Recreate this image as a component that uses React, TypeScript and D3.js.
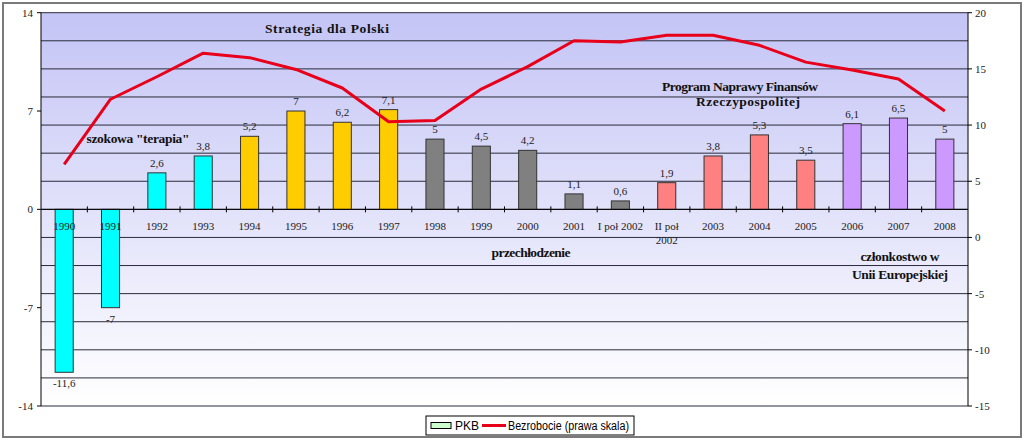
import React from "react";
import * as d3 from "d3";

const categories = ["1990","1991","1992","1993","1994","1995","1996","1997","1998","1999","2000","2001","I poł 2002","II poł|2002","2003","2004","2005","2006","2007","2008"];
const pkb = [-11.6,-7,2.6,3.8,5.2,7,6.2,7.1,5,4.5,4.2,1.1,0.6,1.9,3.8,5.3,3.5,6.1,6.5,5];
const bezrobocie = [6.5,12.3,14.3,16.4,16.0,14.95,13.3,10.3,10.4,13.2,15.2,17.5,17.4,18.0,18.0,17.1,15.6,14.9,14.1,11.25];
const phase = ["shock","shock","shock","shock","strategy","strategy","strategy","strategy","cool","cool","cool","cool","cool","program","program","program","program","eu","eu","eu"];
const phaseColor: Record<string,string> = { shock: "#00ffff", strategy: "#ffcc00", cool: "#808080", program: "#ff8080", eu: "#cc99ff" };
const leftTicks = [14, 7, 0, -7, -14];
const rightTicks = [20, 15, 10, 5, 0, -5, -10, -15];
const gridValues = d3.range(-14, 15, 2);

const annotations = [
  { text: "Strategia dla Polski", x: 327, y: 33, w: 124 },
  { text: "szokowa \"terapia\"", x: 138, y: 143, w: 103 },
  { text: "Program Naprawy Finansów", x: 740, y: 91, w: 156 },
  { text: "Rzeczypospolitej", x: 748, y: 106, w: 104 },
  { text: "przechłodzenie", x: 531, y: 257, w: 79 },
  { text: "członkostwo w", x: 900, y: 261, w: 79 },
  { text: "Unii Europejskiej", x: 900, y: 279, w: 96 },
];

const fmt = (v: number) => String(v).replace(".", ",");

export default function App() {
  const L = 41, R = 968, T = 12.7, B = 406;
  const x = d3.scaleBand<string>().domain(categories).range([L, R]).padding(0);
  const yL = d3.scaleLinear().domain([-14, 14]).range([B, T]);
  const yR = d3.scaleLinear().domain([-15, 20]).range([B, T]);
  const bw = x.bandwidth() * 0.39;
  const cx = (c: string) => (x(c) as number) + x.bandwidth() / 2;
  const line = d3.line<number>().x((_, i) => cx(categories[i])).y((v) => yR(v));
  const serif = "'Liberation Serif', 'Times New Roman', serif";
  const sans = "'Liberation Sans', Arial, sans-serif";
  const zeroY = yL(0);

  return (
    <svg width={1024} height={440} style={{ position: "absolute", left: 0, top: 0, background: "#fff" }}>
      <defs>
        <linearGradient id="bg" x1="0" y1="0" x2="0" y2="1">
          <stop offset="0%" stopColor="#c4c4f6" />
          <stop offset="100%" stopColor="#ffffff" />
        </linearGradient>
      </defs>
      <rect x={3} y={3} width={1018} height={434} fill="#fff" stroke="#7a7a7a" strokeWidth={2} />
      <rect x={L} y={T} width={R - L} height={B - T} fill="url(#bg)" />
      {gridValues.map((g) => (
        <line key={g} x1={L} x2={R} y1={yL(g)} y2={yL(g)} stroke="#2a2a3a" strokeWidth={1} />
      ))}
      {categories.map((c, i) => {
        const v = pkb[i];
        const y0 = yL(Math.max(0, v));
        const h = Math.abs(yL(v) - yL(0));
        return (
          <rect key={c} x={cx(c) - bw / 2} y={y0} width={bw} height={h} fill={phaseColor[phase[i]]} stroke="#333" strokeWidth={1} />
        );
      })}
      <line x1={L} x2={L} y1={T} y2={B} stroke="#000" strokeWidth={1} />
      <line x1={R} x2={R} y1={T} y2={B} stroke="#000" strokeWidth={1} />
      <line x1={L} x2={R} y1={zeroY} y2={zeroY} stroke="#000" strokeWidth={1} />
      {categories.slice(1).map((c) => (
        <line key={c} x1={x(c) as number} x2={x(c) as number} y1={zeroY - 3} y2={zeroY + 3} stroke="#000" strokeWidth={1} />
      ))}
      {leftTicks.map((t) => (
        <g key={t}>
          <line x1={L - 4} x2={L} y1={yL(t)} y2={yL(t)} stroke="#000" />
          <text x={L - 8} y={yL(t) + 4} textAnchor="end" fontFamily={serif} fontSize={11} fill="#222">{t}</text>
        </g>
      ))}
      {rightTicks.map((t) => (
        <g key={t}>
          <line x1={R} x2={R + 4} y1={yR(t)} y2={yR(t)} stroke="#000" />
          <text x={R + 7} y={yR(t) + 4} textAnchor="start" fontFamily={serif} fontSize={11} fill="#222">{t}</text>
        </g>
      ))}
      {categories.map((c) => {
        const parts = c.split("|");
        return (
          <text key={c} x={cx(c)} y={zeroY + 21} textAnchor="middle" fontFamily={serif} fontSize={11} fill="#222">
            {parts.map((p, k) => (
              <tspan key={k} x={cx(c)} dy={k === 0 ? 0 : 14}>{p}</tspan>
            ))}
          </text>
        );
      })}
      {categories.map((c, i) => {
        const v = pkb[i];
        const yy = v >= 0 ? yL(v) - 6 : yL(v) + 15;
        return (
          <text key={c} x={cx(c)} y={yy} textAnchor="middle" fontFamily={serif} fontSize={11} fill="#222">{fmt(v)}</text>
        );
      })}
      <path d={line(bezrobocie) || ""} fill="none" stroke="#e8001a" strokeWidth={3} strokeLinejoin="round" />
      {annotations.map((a) => (
        <text key={a.text} x={a.x} y={a.y} textAnchor="middle" fontFamily={serif} fontWeight="bold" fontSize={13.5} fill="#111" textLength={a.w} lengthAdjust="spacing">{a.text}</text>
      ))}
      <rect x={426} y={416} width={208} height={19} fill="#fff" stroke="#000" strokeWidth={1} />
      <rect x={431} y={422.5} width={20} height={6} fill="#ccffcc" stroke="#000" strokeWidth={1} />
      <text x={455} y={430} fontFamily={sans} fontSize={12} fill="#000">PKB</text>
      <line x1={482} x2={506} y1={425.5} y2={425.5} stroke="#e8001a" strokeWidth={3} />
      <text x={508} y={430} fontFamily={sans} fontSize={12} fill="#000" textLength={121} lengthAdjust="spacingAndGlyphs">Bezrobocie (prawa skala)</text>
    </svg>
  );
}
